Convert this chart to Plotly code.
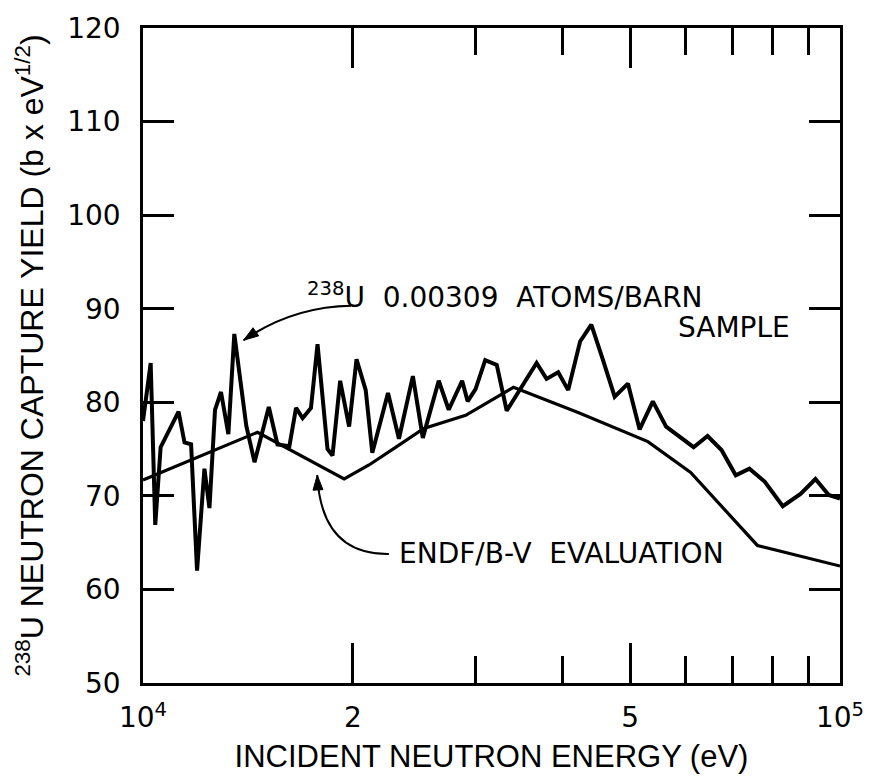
import plotly.graph_objects as go

# ---------------- data ----------------
energy_measured = [10000, 10257, 10413, 10600, 11246, 11470, 11722, 11955, 12250, 12454,
                   12686, 12939, 13258, 13521, 14066, 14454, 15153, 15593, 16218, 16580,
                   16943, 17418, 17800, 18396, 18701, 19181, 19757, 20247, 20870, 21330,
                   22466, 23292, 24388, 25204, 26565, 27454, 28700, 29225, 30000, 30974,
                   32178, 33253, 36703, 37931, 39420, 40738, 42376, 43975, 45709, 47503,
                   49628, 51582, 53890, 56302, 61660, 64565, 67608, 70866, 74131, 78018,
                   82775, 87776, 92212, 96350, 100000]
yield_measured = [78.0, 84.2, 66.9, 75.2, 79.0, 75.7, 75.5, 62.0, 72.9, 68.7,
                  79.2, 81.1, 76.6, 87.3, 77.5, 73.6, 79.5, 75.5, 75.3, 79.4,
                  78.3, 79.4, 86.2, 75.0, 74.3, 82.3, 77.4, 84.6, 81.3, 74.6,
                  81.0, 76.1, 82.8, 76.2, 82.3, 79.2, 82.3, 80.1, 81.4, 84.5,
                  84.0, 79.1, 84.2, 82.5, 83.2, 81.3, 86.5, 88.3, 84.5, 80.6,
                  82.0, 77.1, 80.1, 77.4, 75.2, 76.4, 74.9, 72.2, 72.9, 71.5,
                  68.9, 70.2, 71.8, 70.1, 69.7]

energy_endf = [10000, 14600, 19434, 21098, 23063, 25287, 29034, 34000, 42098, 53012,
               61054, 76118, 100000]
yield_endf = [71.7, 76.8, 71.8, 73.3, 75.2, 77.2, 78.6, 81.6, 78.9, 75.8,
              72.5, 64.7, 62.5]

y_tick_values = [50, 60, 70, 80, 90, 100, 110, 120]
x_major_ticks = [1e4, 2e4, 5e4, 1e5]
x_major_labels = ["10<sup>4</sup>", "2", "5", "10<sup>5</sup>"]
x_minor_ticks = [3e4, 4e4, 6e4, 7e4, 8e4, 9e4]

# ---------------- layout helpers ----------------
W, H = 876, 780
L, R, T, B = 143, 33, 20, 95
PW, PH = W - L - R, H - T - B


def px(x):
    return (x - L) / PW


def py(y):
    return (H - B - y) / PH


fig = go.Figure()
fig.add_trace(go.Scatter(x=energy_endf, y=yield_endf, mode="lines",
                         line=dict(color="black", width=3.2), showlegend=False))
fig.add_trace(go.Scatter(x=energy_measured, y=yield_measured, mode="lines",
                         line=dict(color="black", width=4), showlegend=False))

tick_font = dict(family="DejaVu Sans", size=28, color="black")
xtitle_font = dict(family="Liberation Sans", size=31, color="black")
ytitle_font = dict(family="Liberation Sans", size=32, color="black")
text_font = dict(family="DejaVu Sans", size=28, color="black")

fig.update_layout(
    width=W, height=H,
    margin=dict(l=L, r=R, t=T, b=B),
    paper_bgcolor="white", plot_bgcolor="white",
    xaxis=dict(type="log", range=[4, 5], showgrid=False, zeroline=False,
               showline=True, linecolor="black", linewidth=2.5, mirror="allticks",
               ticks="inside", ticklen=40, tickwidth=2.5, tickcolor="black",
               tickvals=x_major_ticks, ticktext=x_major_labels, tickfont=tick_font,
               ticklabelstandoff=8,
               minor=dict(tickvals=x_minor_ticks, ticks="inside", ticklen=27,
                          tickwidth=2.5, tickcolor="black", showgrid=False),
               title=dict(text="INCIDENT NEUTRON ENERGY (eV)", font=xtitle_font, standoff=12)),
    yaxis=dict(range=[50, 120], showgrid=False, zeroline=False,
               showline=True, linecolor="black", linewidth=2.5, mirror="allticks",
               ticks="inside", ticklen=31, tickwidth=2.5, tickcolor="black",
               tickvals=y_tick_values, tickfont=tick_font, ticklabelstandoff=14,
               title=dict(text="<sup>238</sup>U NEUTRON CAPTURE YIELD (b x eV<sup>1/2</sup>)",
                          font=ytitle_font, standoff=14)),
)

# annotations (text)
fig.add_annotation(xref="paper", yref="paper", x=px(306), y=py(292),
                   xanchor="left", yanchor="middle", showarrow=False,
                   text="<sup>238</sup>U  0.00309  ATOMS/BARN", font=text_font)
fig.add_annotation(xref="paper", yref="paper", x=px(795), y=py(324),
                   xanchor="right", yanchor="middle", showarrow=False,
                   text="SAMPLE", font=text_font)
fig.add_annotation(xref="paper", yref="paper", x=px(398), y=py(554),
                   xanchor="left", yanchor="middle", showarrow=False,
                   text="ENDF/B-V  EVALUATION", font=text_font)


# curved arrows (paper coordinates)
def qpath(p0, c, p1):
    return (f"M {px(p0[0])},{py(p0[1])} Q {px(c[0])},{py(c[1])} {px(p1[0])},{py(p1[1])}")


def head(tip, frm, length=15, half=5):
    import math
    dx, dy = tip[0] - frm[0], tip[1] - frm[1]
    n = math.hypot(dx, dy)
    ux, uy = dx / n, dy / n
    bx, by = tip[0] - ux * length, tip[1] - uy * length
    a = (bx - uy * half, by + ux * half)
    b = (bx + uy * half, by - ux * half)
    return (f"M {px(tip[0])},{py(tip[1])} L {px(a[0])},{py(a[1])} "
            f"L {px(b[0])},{py(b[1])} Z")


arrows = [((352, 302), (293, 303), (244, 337)),
          ((390, 554), (322, 555), (318, 474))]
for p0, c, p1 in arrows:
    fig.add_shape(type="path", xref="paper", yref="paper", path=qpath(p0, c, p1),
                  line=dict(color="black", width=2))
    fig.add_shape(type="path", xref="paper", yref="paper", path=head(p1, c),
                  line=dict(color="black", width=1), fillcolor="black")

fig.write_html("out.html")
